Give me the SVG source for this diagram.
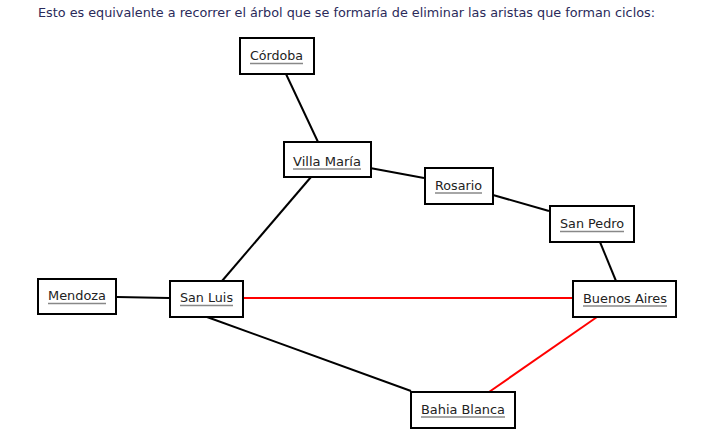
<svg xmlns="http://www.w3.org/2000/svg" width="701" height="443" viewBox="0 0 701 443">
<style>
.box{fill:#fff;stroke:#000;stroke-width:2}
.lbl{font-family:"DejaVu Sans",sans-serif;font-size:13px;fill:#222}
.ul{stroke:#888;stroke-width:1.3}
.e{stroke:#000;stroke-width:2;fill:none}
.r{stroke:#f00;stroke-width:2;fill:none}
.hdr{font-family:"DejaVu Sans",sans-serif;font-size:13px;fill:#2a2a5a}
</style>
<rect width="701" height="443" fill="#fff"/>
<text class="hdr" x="38" y="17" textLength="617" lengthAdjust="spacingAndGlyphs">Esto es equivalente a recorrer el árbol que se formaría de eliminar las aristas que forman ciclos:</text>
<g id="connectors">
<line class="e" x1="286" y1="74" x2="318" y2="142"/>
<line class="e" x1="370" y1="168" x2="424" y2="178"/>
<line class="e" x1="311" y1="177" x2="222" y2="281"/>
<line class="e" x1="493" y1="195" x2="549" y2="211"/>
<line class="e" x1="600" y1="242" x2="616" y2="281"/>
<line class="e" x1="117" y1="297" x2="169" y2="298"/>
<line class="r" x1="243" y1="298" x2="572" y2="298"/>
<line class="e" x1="207" y1="317" x2="411" y2="391"/>
<line class="r" x1="597" y1="317" x2="489" y2="392"/>
</g>
<g id="cordoba"><rect class="box" x="240" y="38" width="74" height="36"/><text class="lbl" x="250" y="60" textLength="53" lengthAdjust="spacingAndGlyphs">Córdoba</text><line class="ul" x1="250" y1="63.5" x2="303" y2="63.5"/></g>
<g id="villamaria"><rect class="box" x="284" y="142" width="87" height="35"/><text class="lbl" x="293" y="165.5" textLength="68" lengthAdjust="spacingAndGlyphs">Villa María</text><line class="ul" x1="293" y1="169" x2="361" y2="169"/></g>
<g id="rosario"><rect class="box" x="425" y="168" width="68" height="36"/><text class="lbl" x="435" y="189.5" textLength="47" lengthAdjust="spacingAndGlyphs">Rosario</text><line class="ul" x1="435" y1="193" x2="482" y2="193"/></g>
<g id="sanpedro"><rect class="box" x="550" y="206" width="84" height="36"/><text class="lbl" x="560" y="228" textLength="64" lengthAdjust="spacingAndGlyphs">San Pedro</text><line class="ul" x1="560" y1="231.5" x2="624" y2="231.5"/></g>
<g id="buenosaires"><rect class="box" x="573" y="281" width="103" height="36"/><text class="lbl" x="583" y="302.5" textLength="84" lengthAdjust="spacingAndGlyphs">Buenos Aires</text><line class="ul" x1="583" y1="306" x2="667" y2="306"/></g>
<g id="mendoza"><rect class="box" x="38" y="279" width="78" height="35"/><text class="lbl" x="48" y="300" textLength="58" lengthAdjust="spacingAndGlyphs">Mendoza</text><line class="ul" x1="48" y1="303.5" x2="106" y2="303.5"/></g>
<g id="sanluis"><rect class="box" x="170" y="281" width="73" height="36"/><text class="lbl" x="180" y="302" textLength="53" lengthAdjust="spacingAndGlyphs">San Luis</text><line class="ul" x1="180" y1="305.5" x2="233" y2="305.5"/></g>
<g id="bahiablanca"><rect class="box" x="411" y="392" width="104" height="36"/><text class="lbl" x="421" y="413.5" textLength="84" lengthAdjust="spacingAndGlyphs">Bahia Blanca</text><line class="ul" x1="421" y1="417" x2="505" y2="417"/></g>
</svg>
